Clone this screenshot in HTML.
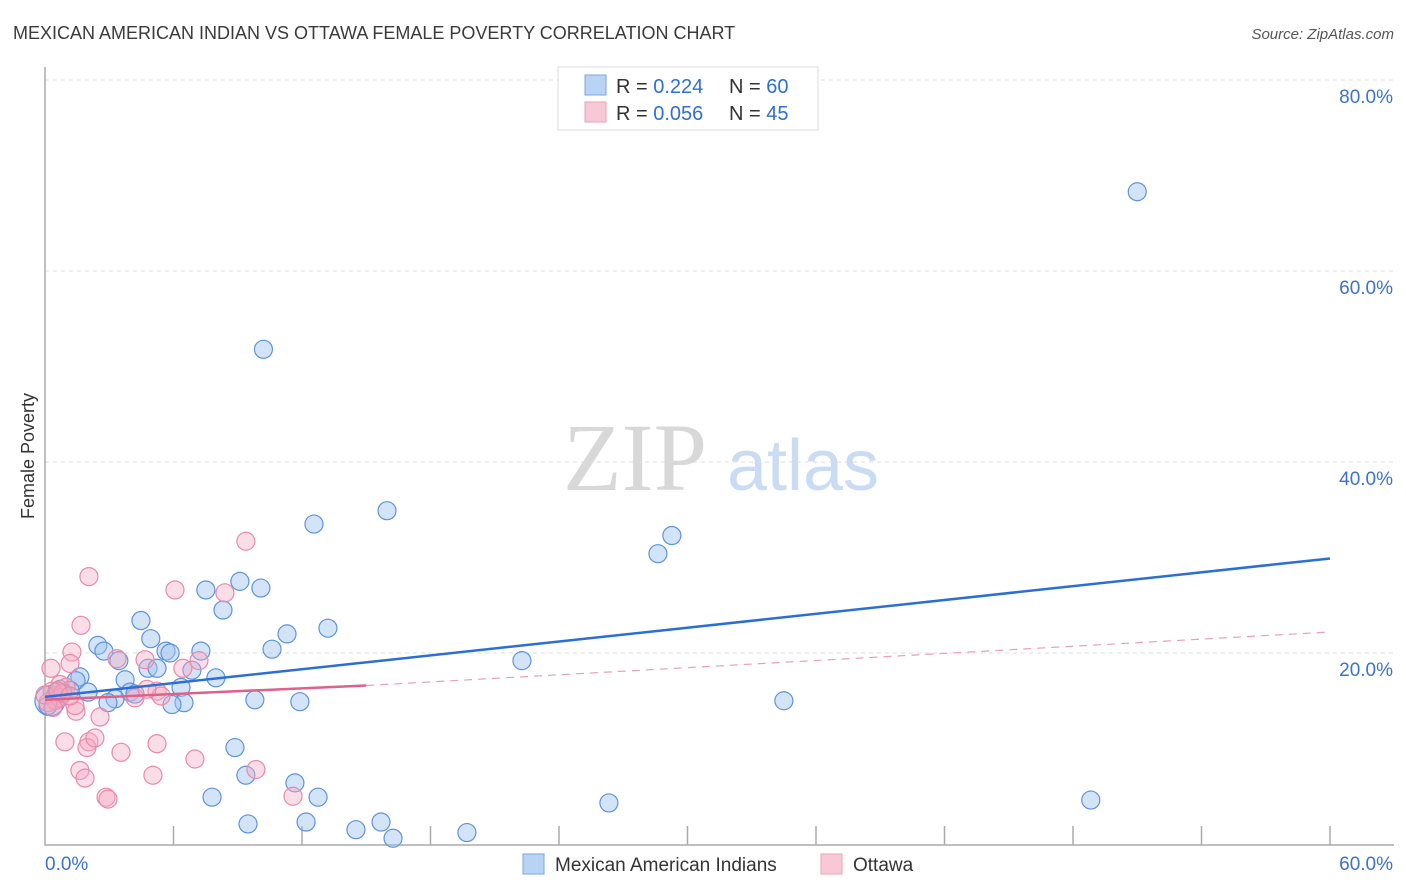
<!DOCTYPE html>
<html><head><meta charset="utf-8"><style>
body{margin:0;background:#fff;font-family:"Liberation Sans",sans-serif}
svg{display:block}
</style></head><body>
<svg id="c" width="1406" height="892">
<text x="13" y="39" font-size="18" fill="#3a3a3a">MEXICAN AMERICAN INDIAN VS OTTAWA FEMALE POVERTY CORRELATION CHART</text>
<text x="1394" y="39" font-size="15" fill="#555" font-style="italic" text-anchor="end">Source: ZipAtlas.com</text>
<g>
<text x="635" y="490" font-size="96" font-family="Liberation Serif,serif" fill="#d8d8d8" text-anchor="middle">ZIP</text>
<text x="803" y="490" font-size="72" fill="#c9dcf3" text-anchor="middle">atlas</text>
</g>
<text transform="translate(34,456) rotate(-90)" font-size="18" fill="#333" text-anchor="middle">Female Poverty</text>
<g id="grid"></g>
<g id="pts"></g>
<g id="trend"></g>
<g>
<rect x="558" y="67" width="260" height="63" fill="#fff" stroke="#ddd"/>
<rect x="585" y="75" width="21" height="20" fill="#b9d3f5" stroke="#7aa6e0"/>
<rect x="585" y="102" width="21" height="20" fill="#f9c8d6" stroke="#eaa0b8"/>
<text x="616" y="93" font-size="20" fill="#333">R = <tspan fill="#2f6fd0"> 0.224</tspan></text>
<text x="729" y="93" font-size="20" fill="#333">N = <tspan fill="#2f6fd0">60</tspan></text>
<text x="616" y="120" font-size="20" fill="#333">R = <tspan fill="#2f6fd0">0.056</tspan></text>
<text x="729" y="120" font-size="20" fill="#333">N = <tspan fill="#2f6fd0">45</tspan></text>
</g>
<g>
<rect x="523" y="854" width="21" height="20" fill="#b9d3f5" stroke="#7aa6e0"/>
<text x="555" y="871" font-size="19" fill="#333">Mexican American Indians</text>
<rect x="821" y="854" width="21" height="20" fill="#f9c8d6" stroke="#eaa0b8"/>
<text x="853" y="871" font-size="19" fill="#333">Ottawa</text>
</g>
</svg>
<script>
const blueX=[10.2,51,15.97,12.56,29.27,28.62,9.1,10.08,7.51,8.31,4.48,4.94,2.47,11.3,13.21,2.75,5.65,5.84,7.28,3.45,10.6,4.81,5.23,6.86,7.98,1.63,1.45,3.74,6.35,0.7,1.17,2.01,3.97,4.2,3.27,2.94,6.49,5.93,9.8,11.9,22.27,34.5,8.87,9.38,11.67,7.8,12.75,26.33,48.83,9.48,12.19,14.52,15.69,16.25,19.7,0.23,0.47,0.14,0.79,0.56];
const blueY=[51.8,68.3,34.9,33.5,32.3,30.4,27.5,26.8,26.6,24.5,23.4,21.5,20.8,22.0,22.6,20.2,20.2,20.0,20.2,19.2,20.4,18.4,18.4,18.2,17.4,17.5,17.1,17.2,16.4,16.2,16.1,15.9,15.9,15.7,15.2,14.8,14.8,14.6,15.1,14.9,19.2,15.0,10.1,7.2,6.4,4.9,4.9,4.3,4.6,2.1,2.3,1.5,2.3,0.6,1.2,15.0,15.5,14.5,15.8,16.0];
const pinkX=[2.05,9.38,6.07,8.4,1.68,1.26,1.17,3.36,4.67,6.44,0.28,7.19,5.23,4.2,5.42,4.76,0.7,0.98,0.33,0.51,1.45,2.57,0.93,2.05,1.96,2.33,3.55,5.23,7.0,5.04,1.63,1.87,9.85,2.85,2.94,11.58,0.47,0.7,0.14,1.4,0,0.84,0.37,0.61,1.17];
const pinkY=[28.0,31.7,26.6,26.3,22.9,20.1,18.9,19.4,19.3,18.4,18.4,19.2,16.0,15.3,15.5,16.2,16.7,16.4,16.0,15.1,13.9,13.3,10.7,10.7,10.1,11.1,9.6,10.5,8.9,7.2,7.7,6.9,7.8,4.9,4.7,5.0,15.0,15.3,14.8,14.5,15.6,15.8,14.3,16.0,15.5];
const xTicks=[0,60];
const yTicks=[20,40,60,80];
const blueTrend=[0,15.4,60,29.9];
const pinkTrend=[0,15.1,15,16.6,60,22.2];
const X=v=>45+v*1285/60, Y=v=>844-v*191/20;
const NS="http://www.w3.org/2000/svg";
function mk(p,t,a){const e=document.createElementNS(NS,t);for(const k in a)e.setAttribute(k,a[k]);p.appendChild(e);return e;}
const grid=document.getElementById('grid');
yTicks.forEach(t=>{
 const l=mk(grid,'line',{x1:45,x2:1394,y1:Y(t),y2:Y(t),stroke:'#ddd','stroke-dasharray':'4,4'});
 
 
 const tx=mk(grid,'text',{x:1393,y:Y(t)+23,'font-size':19,fill:'#3b73cc','text-anchor':'end'});
 tx.textContent=t.toFixed(1)+'%';
 
 
});
const ax=mk(grid,'path',{d:'M45,67V845H1394',fill:'none',stroke:'#aaa','stroke-width':1.5});


for(let i=1;i<=10;i++){const tk=mk(grid,'line',{x1:45+i*128.5,x2:45+i*128.5,y1:826,y2:845,stroke:'#aaa','stroke-width':1.5});
 
 }
xTicks.forEach((t,i)=>{const tx=mk(grid,'text',{x:i?1393:45,y:870,'font-size':19,fill:'#3b73cc','text-anchor':i?'end':'start'});
 tx.textContent=t.toFixed(1)+'%';
 
 });
const pts=document.getElementById('pts');
blueX.forEach((v,i)=>{const c=mk(pts,'circle',{cx:X(v),cy:Y(blueY[i]),r:i==55?15:9,fill:'rgba(160,196,240,0.45)',stroke:'#5d93dc','stroke-width':1.2});
 
 });
pinkX.forEach((v,i)=>{const c=mk(pts,'circle',{cx:X(v),cy:Y(pinkY[i]),r:9,fill:'rgba(245,170,195,0.4)',stroke:'#e88aa8','stroke-width':1.2});
 
 });
const tr=document.getElementById('trend');
const bl=mk(tr,'line',{x1:X(blueTrend[0]),y1:Y(blueTrend[1]),x2:X(blueTrend[2]),y2:Y(blueTrend[3]),stroke:'#2a6fd6','stroke-width':2.5});


const pl=mk(tr,'line',{x1:X(pinkTrend[0]),y1:Y(pinkTrend[1]),x2:X(pinkTrend[2]),y2:Y(pinkTrend[3]),stroke:'#e0608a','stroke-width':2.5});


const pd=mk(tr,'line',{x1:X(pinkTrend[2]),y1:Y(pinkTrend[3]),x2:X(pinkTrend[4]),y2:Y(pinkTrend[5]),stroke:'#e8a0b8','stroke-width':1.2,'stroke-dasharray':'8,6'});


</script>
</body></html>
